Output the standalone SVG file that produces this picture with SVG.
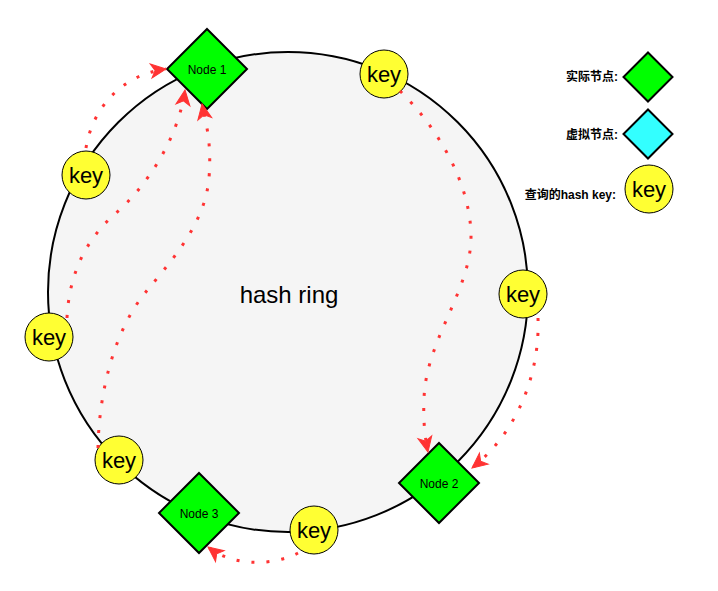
<svg xmlns="http://www.w3.org/2000/svg" width="718" height="591" viewBox="0 0 718 591">
<style>
.ring{fill:#f5f5f5;stroke:#000;stroke-width:2}
.node{fill:#00ff00;stroke:#000;stroke-width:2}
.vnode{fill:#33ffff;stroke:#000;stroke-width:2}
.key{fill:#ffff33;stroke:#000;stroke-width:1}
.kt{font-family:"Liberation Sans",Arial,sans-serif;font-size:22px;text-anchor:middle;fill:#000}
.nt{font-family:"Liberation Sans",Arial,sans-serif;font-size:12px;text-anchor:middle;fill:#000}
.lt{font-family:"Liberation Sans","Noto Sans CJK SC",sans-serif;font-size:12px;font-weight:bold;text-anchor:end;fill:#000}
.edge{fill:none;stroke:#ff3333;stroke-width:3;stroke-dasharray:3 12;marker-end:url(#arr)}
</style>
<defs>
<marker id="arr" markerUnits="userSpaceOnUse" orient="auto" viewBox="-16 -8 17 16" markerWidth="17" markerHeight="16" refX="0" refY="0" overflow="visible">
<path d="M0,0 L-15,-7 L-11,0 L-15,7 Z" fill="#ff3333" stroke="#ff3333" stroke-width="1"/>
</marker>
</defs>
<g id="ring">
<circle class="ring" cx="288" cy="292" r="240"/>
<text x="289" y="303" font-family="Liberation Sans,Arial,sans-serif" font-size="24" text-anchor="middle">hash ring</text>
</g>
<g id="node1"><path class="node" d="M207,29 L247,69 L207,109 L167,69 Z"/><text class="nt" x="207" y="74">Node 1</text></g>
<g id="node2"><path class="node" d="M439,443 L479,483 L439,523 L399,483 Z"/><text class="nt" x="439" y="488">Node 2</text></g>
<g id="node3"><path class="node" d="M199,473 L239,513 L199,553 L159,513 Z"/><text class="nt" x="199" y="518">Node 3</text></g>
<g id="key-top"><circle class="key" cx="384" cy="74" r="24"/><text class="kt" x="384" y="82">key</text></g>
<g id="key-upperleft"><circle class="key" cx="86" cy="175" r="24"/><text class="kt" x="86" y="183">key</text></g>
<g id="key-left"><circle class="key" cx="49" cy="337" r="24"/><text class="kt" x="49" y="345">key</text></g>
<g id="key-lowerleft"><circle class="key" cx="119" cy="460" r="24"/><text class="kt" x="119" y="468">key</text></g>
<g id="key-bottom"><circle class="key" cx="314" cy="530" r="24"/><text class="kt" x="314" y="538">key</text></g>
<g id="key-right"><circle class="key" cx="523" cy="294" r="24"/><text class="kt" x="523" y="302">key</text></g>
<g id="connectors">
<path class="edge" d="M86,148 C92,110 120,75 166,69"/>
<path class="edge" d="M67,318 C69,275 85,240 116,213 C145,188 178,140 185,90"/>
<path class="edge" d="M98,448 C99,390 115,330 145,293 C170,262 205,225 209,178 C212,140 205,120 202,104"/>
<path class="edge" d="M400,91 C435,125 470,180 471,235 C472,290 425,340 424,400 C423,420 425,438 428,452"/>
<path class="edge" d="M538,318 C540,370 520,430 472,468"/>
<path class="edge" d="M298,553 C275,565 235,568 208,547"/>
</g>
<g id="legend-real"><text class="lt" x="618" y="81">实际节点:</text><path class="node" d="M648,52.5 L672.5,77 L648,101.5 L623.5,77 Z"/></g>
<g id="legend-virtual"><text class="lt" x="618" y="139">虚拟节点:</text><path class="vnode" d="M648,109.5 L672.5,134 L648,158.5 L623.5,134 Z"/></g>
<g id="legend-key"><text class="lt" x="616" y="199">查询的hash key:</text><circle class="key" cx="649" cy="189" r="24"/><text class="kt" x="649" y="197">key</text></g>
</svg>
